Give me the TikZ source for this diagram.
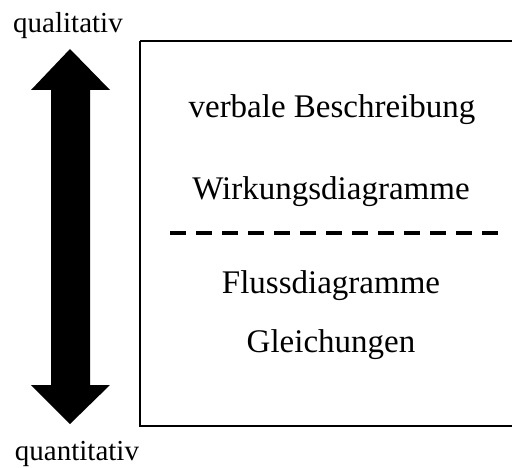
\documentclass[tikz,border=0pt]{standalone}
\usepackage{fontspec}
\setmainfont{Liberation Serif}
\begin{document}
\begin{tikzpicture}[x=1pt,y=-1pt,
  label/.style={font=\fontsize{33}{33}\selectfont, anchor=base, inner sep=0pt},
  side/.style={font=\fontsize{29}{29}\selectfont, anchor=base, inner sep=0pt}]
\useasboundingbox (0,0) rectangle (512,468);
% frame
\draw[line width=1.4pt] (140,41) -- (514,41) (140,41) -- (140,426) -- (514,426);
% double block arrow
\fill[black] (70,49) -- (110,90) -- (90,90) -- (90,385) -- (110,385) -- (70,424)
  -- (31,385) -- (51,385) -- (51,90) -- (31,90) -- cycle;
% labels
\node[side] (qual) at (68,33) {qualitativ};
\node[side] (quant) at (77,460) {quantitativ};
\node[label] (verb) at (332,118) {verbale Beschreibung};
\node[label] (wirk) at (331,200) {Wirkungsdiagramme};
\node[label] (fluss) at (331,293) {Flussdiagramme};
\node[label] (gleich) at (331,352) {Gleichungen};
% separator
\coordinate (sepL) at (170,233.5);
\coordinate (sepR) at (498,233.5);
\draw[line width=4pt, dash pattern=on 16pt off 10pt] (sepL) -- (sepR);
\end{tikzpicture}
\end{document}
